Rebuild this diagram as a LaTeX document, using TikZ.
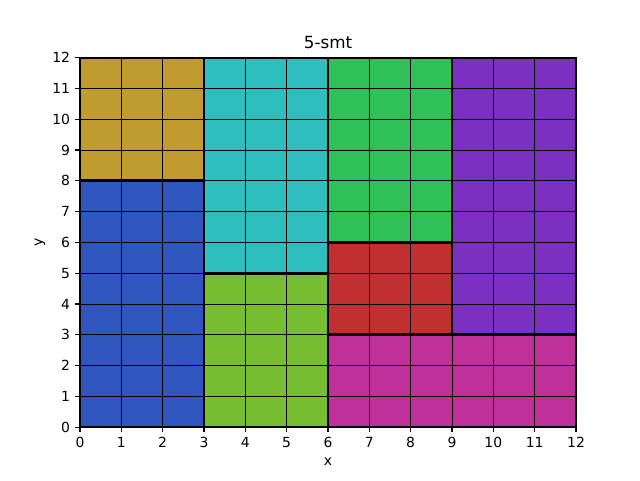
\documentclass[tikz,border=0pt]{standalone}
\usepackage{fontspec}
\setmainfont{DejaVu Sans}
\usetikzlibrary{positioning}
\definecolor{goldpart}{RGB}{192,156,48}
\definecolor{bluepart}{RGB}{48,86,192}
\definecolor{cyanpart}{RGB}{46,190,190}
\definecolor{limepart}{RGB}{120,190,50}
\definecolor{greenpart}{RGB}{48,192,88}
\definecolor{redpart}{RGB}{192,48,48}
\definecolor{purplepart}{RGB}{122,48,192}
\definecolor{magentapart}{RGB}{192,48,155}

\begin{document}
\begin{tikzpicture}[x=1.03333cm,y=0.77cm,
                    every node/.style={font=\fontsize{9.9}{12}\selectfont,inner sep=0pt},
                    cell/.style={line width=0.7pt},
                    boundary/.style={line width=2.1pt},
                    spine/.style={line width=0.8pt}]

  \useasboundingbox (-1.9355,-1.7143) rectangle (13.5484,13.8701);

  % --- the eight parts -----------------------------------------------------
  \fill[goldpart]    (0,8) rectangle (3,12);
  \fill[bluepart]    (0,0) rectangle (3,8);
  \fill[cyanpart]    (3,5) rectangle (6,12);
  \fill[limepart]    (3,0) rectangle (6,5);
  \fill[greenpart]   (6,6) rectangle (9,12);
  \fill[redpart]     (6,3) rectangle (9,6);
  \fill[purplepart]  (9,3) rectangle (12,12);
  \fill[magentapart] (6,0) rectangle (12,3);

  % --- unit cells ----------------------------------------------------------
  \foreach \i in {1,...,11} {
    \draw[cell] (\i,0) -- (\i,12);
    \draw[cell] (0,\i) -- (12,\i);
  }

  % --- part outlines, clipped to the axes ----------------------------------
  \begin{scope}
    \clip (0,0) rectangle (12,12);
    \draw[boundary] (0,8) rectangle (3,12);
    \draw[boundary] (0,0) rectangle (3,8);
    \draw[boundary] (3,5) rectangle (6,12);
    \draw[boundary] (3,0) rectangle (6,5);
    \draw[boundary] (6,6) rectangle (9,12);
    \draw[boundary] (6,3) rectangle (9,6);
    \draw[boundary] (9,3) rectangle (12,12);
    \draw[boundary] (6,0) rectangle (12,3);
  \end{scope}

  % --- axes frame, ticks and labels ----------------------------------------
  \draw[spine] (0,0) rectangle (12,12);
  \foreach \i in {0,...,12} {
    \draw[spine] (\i,0) -- (\i,-0.158);
    \node[anchor=north] (xt\i) at (\i,-0.33) {\i};
    \draw[spine] (0,\i) -- (-0.1176,\i);
    \node[anchor=east] (yt\i) at (-0.2352,\i) {\i};
  }
  \node (xlab) at (6,-1.13) {x};
  \node[rotate=90] (ylab) at (-0.968,6) {y};
  \node[font=\fontsize{11.9}{14}\selectfont] (title) at (6,12.474) {5-smt};
\end{tikzpicture}
\end{document}
